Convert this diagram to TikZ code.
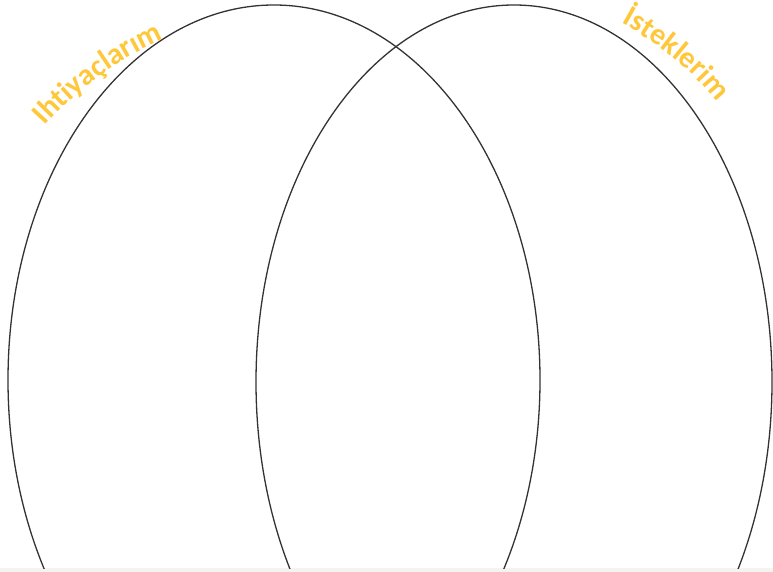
\documentclass[tikz,border=0pt]{standalone}
\usepackage{fontspec}
\setmainfont{Carlito}
\usetikzlibrary{shapes.geometric, decorations.text}
\definecolor{ringcol}{HTML}{333333}
\definecolor{labelcol}{HTML}{FFC83A}
\definecolor{stripcol}{HTML}{F4F3EE}

\begin{document}
\begin{tikzpicture}[
    x=1pt, y=-1pt,
    ring/.style={
        draw=ringcol, ellipse, line width=1.3pt,
        inner sep=0pt, outer sep=0pt,
    },
    arclabel/.style={
        decorate, decoration={text along path, text align=center,
        text={|\fontsize{30}{30}\selectfont\bfseries\color{labelcol}|#1}},
    },
]

% === Canvas ===
\useasboundingbox (0,0) rectangle (773,572);
\fill[white] (0,0) rectangle (773,572);
\fill[stripcol] (0,568) rectangle (773,572);

% === The two rings ===
\begin{scope}
    \clip (0,0) rectangle (773,568);
    \node[ring, minimum width=532pt, minimum height=750pt] (needs) at (274,380) {};
    \node[ring, minimum width=516pt, minimum height=754pt] (wants) at (514,382) {};
\end{scope}

% === Labels along the rings ===
\path[arclabel={Ihtiyaçlarım}]
    (36,136) .. controls (75,90) and (118,58) .. (176,34);
\path[arclabel={İsteklerim}]
    (608,16) .. controls (652,38) and (693,68) .. (726,114);

\end{tikzpicture}
\end{document}
